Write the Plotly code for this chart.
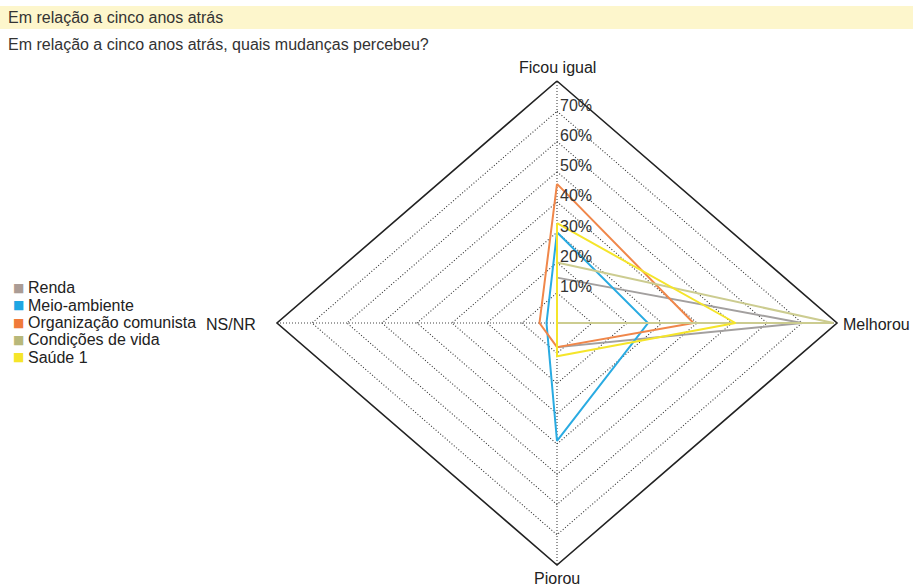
import math
import plotly.graph_objects as go

# ---- data ----
categories = ["Ficou igual", "Melhorou", "Piorou", "NS/NR"]
series_names = ["Renda", "Meio-ambiente", "Organização comunista", "Condições de vida", "Saúde 1"]
renda = [15, 70, 8, 0]
meio_ambiente = [30, 26, 39, 3]
organizacao = [46, 39, 8, 5]
condicoes = [20, 79, 0, 0]
saude = [33, 51, 11, 0]
tick_values = [10, 20, 30, 40, 50, 60, 70]
tick_labels = ["10%", "20%", "30%", "40%", "50%", "60%", "70%"]
axis_max = 80

title_text = "Em relação a cinco anos atrás"
subtitle_text = "Em relação a cinco anos atrás, quais mudanças percebeu?"

line_colors = ["#a3a09f", "#29abe2", "#f0874a", "#cccc90", "#f5e52a"]
legend_colors = ["#ab9c95", "#1ea6e3", "#f07a3a", "#b8b87a", "#f5e52a"]

# axis directions (degrees): top, right, bottom, left
angles = [90, 0, -90, 180]


def to_xy(values):
    xs, ys = [], []
    for v, a in zip(values + values[:1], angles + angles[:1]):
        xs.append(v * math.cos(math.radians(a)))
        ys.append(v * math.sin(math.radians(a)))
    return xs, ys


W, H = 920, 587
cx_px, cy_px = 557, 323
px_per_x = 3.5      # pixels per 1% horizontally
px_per_y = 3.025    # pixels per 1% vertically

x_range = [-cx_px / px_per_x, (W - cx_px) / px_per_x]
y_range = [-(H - cy_px) / px_per_y, cy_px / px_per_y]

font_family = "Liberation Sans, Arial, sans-serif"
fig = go.Figure()

# grid rings
for tv in tick_values:
    xs, ys = to_xy([tv] * 4)
    fig.add_trace(go.Scatter(x=xs, y=ys, mode="lines", hoverinfo="skip", showlegend=False,
                             line=dict(color="#333333", width=1.1, dash="1px,2px")))
# spokes
for a in angles:
    fig.add_trace(go.Scatter(x=[0, axis_max * math.cos(math.radians(a))],
                             y=[0, axis_max * math.sin(math.radians(a))],
                             mode="lines", hoverinfo="skip", showlegend=False,
                             line=dict(color="#444444", width=1.1, dash="1px,2px")))
# outer ring
xs, ys = to_xy([axis_max] * 4)
fig.add_trace(go.Scatter(x=xs, y=ys, mode="lines", hoverinfo="skip", showlegend=False,
                         line=dict(color="#222222", width=1.6)))

# data series
all_series = [renda, meio_ambiente, organizacao, condicoes, saude]
for name, vals, col in zip(series_names, all_series, line_colors):
    xs, ys = to_xy(vals)
    fig.add_trace(go.Scatter(x=xs, y=ys, mode="lines", name=name, showlegend=False,
                             line=dict(color=col, width=2)))

annotations = []
# tick labels
for tv, tl in zip(tick_values, tick_labels):
    annotations.append(dict(x=0, y=tv + 2, text=tl, showarrow=False, xanchor="left",
                            yanchor="middle", xshift=1,
                            font=dict(size=16, color="#333333", family=font_family)))
# category labels
label_pos = [
    dict(x=0, y=84.6, xanchor="center"),
    dict(x=81.0, y=-0.5, xanchor="left"),
    dict(x=0, y=-84.5, xanchor="center"),
    dict(x=-85.5, y=-0.5, xanchor="right"),
]
for cat, p in zip(categories, label_pos):
    annotations.append(dict(x=p["x"], y=p["y"], text=cat, showarrow=False,
                            xanchor=p["xanchor"], yanchor="middle",
                            font=dict(size=16, color="#222222", family=font_family)))
# titles
annotations.append(dict(xref="paper", yref="paper", x=6 / W, y=1 - 17 / H, text=title_text,
                        showarrow=False, xanchor="left", yanchor="middle",
                        font=dict(size=16, color="#333333", family=font_family)))
annotations.append(dict(xref="paper", yref="paper", x=6 / W, y=1 - 45 / H, text=subtitle_text,
                        showarrow=False, xanchor="left", yanchor="middle",
                        font=dict(size=16, color="#333333", family=font_family)))
# legend (square glyph + label)
legend_top_px = 288
legend_step_px = 17.3
for i, (name, col) in enumerate(zip(series_names, legend_colors)):
    ypx = legend_top_px + i * legend_step_px
    annotations.append(dict(xref="paper", yref="paper", x=18 / W, y=1 - ypx / H, text="■",
                            showarrow=False, xanchor="center", yanchor="middle",
                            font=dict(size=12, color=col, family="DejaVu Sans")))
    annotations.append(dict(xref="paper", yref="paper", x=26 / W, y=1 - ypx / H, text=name,
                            showarrow=False, xanchor="left", yanchor="middle",
                            font=dict(size=16, color="#222222", family=font_family)))

fig.update_layout(
    width=W, height=H,
    margin=dict(l=0, r=0, t=0, b=0),
    paper_bgcolor="white", plot_bgcolor="white",
    xaxis=dict(range=x_range, visible=False, fixedrange=True),
    yaxis=dict(range=y_range, visible=False, fixedrange=True),
    annotations=annotations,
    shapes=[dict(type="rect", xref="paper", yref="paper", x0=0, x1=913 / W,
                 y0=1 - 29 / H, y1=1 - 6 / H, fillcolor="#fdf6cc", line=dict(width=0),
                 layer="below")],
    showlegend=False,
)

fig.write_html("out.html", config={"displayModeBar": False},
               post_script="document.body.style.margin='0px';")
